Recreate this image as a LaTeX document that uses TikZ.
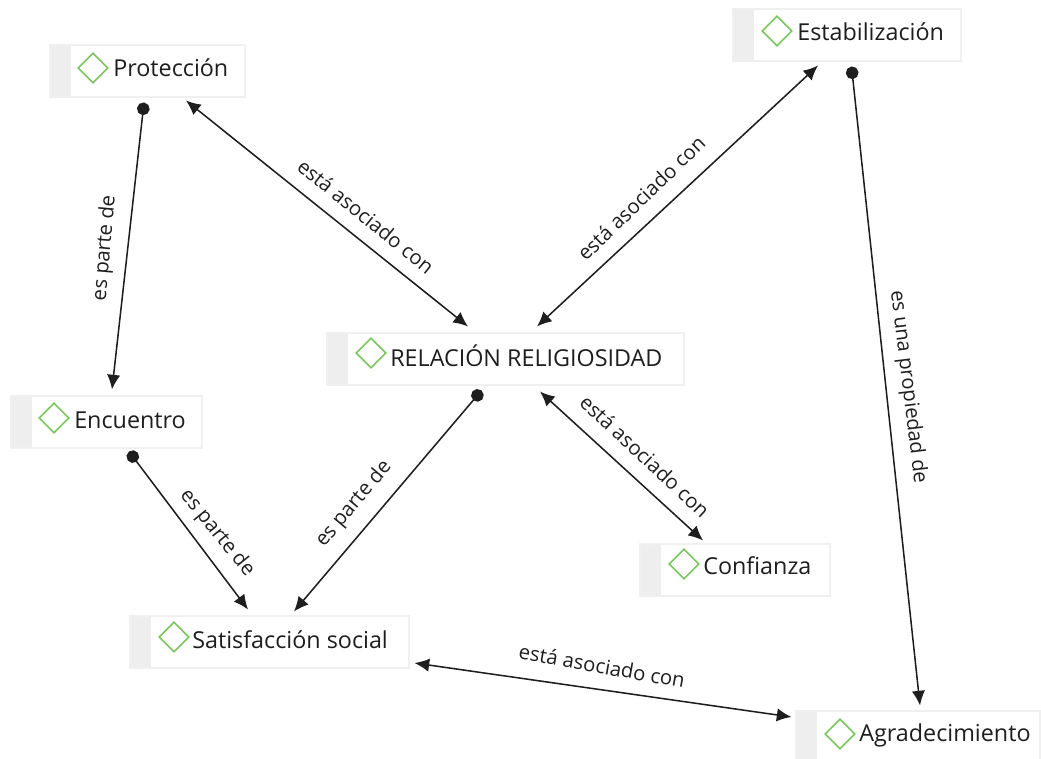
\documentclass[tikz,border=0pt]{standalone}
\usepackage{fontspec}
\setmainfont{Open Sans}
\usetikzlibrary{arrows.meta,calc,shapes.geometric}
\definecolor{stripgray}{RGB}{238,238,238}
\definecolor{boxline}{RGB}{240,240,240}
\definecolor{codegreen}{RGB}{124,198,94}
\definecolor{inkblack}{RGB}{30,30,30}
\tikzset{
  conceptbox/.style={draw=boxline,line width=0.8pt,fill=white,minimum height=39pt,inner sep=0pt,
    path picture={\fill[stripgray] (path picture bounding box.south west) rectangle ([xshift=15.75pt]path picture bounding box.north west);}},
  codemark/.style={diamond,draw=codegreen,line width=1.2pt,minimum width=22.5pt,minimum height=22.5pt,inner sep=0pt},
  conceptname/.style={anchor=west,inner sep=0pt,text=inkblack,font=\fontsize{17.5}{20}\selectfont},
  linklabel/.style={inner sep=0pt,text=inkblack,font=\fontsize{15.2}{18}\selectfont},
  assoc/.style={draw=inkblack,line width=1.15pt,{Latex[length=11pt,width=10pt]}-{Latex[length=11pt,width=10pt]}},
  partof/.style={draw=inkblack,line width=1.15pt,{Circle[length=9.5pt]}-{Latex[length=11pt,width=10pt]}},
}
\begin{document}
\begin{tikzpicture}[x=0.75pt,y=0.75pt,yscale=-1,xscale=1]
    \useasboundingbox (0,0) rectangle (1041,759);

    %Concept: Proteccion
    \node[conceptbox,minimum width=146.25pt] (prot) at (147.5,71) {};
    \node[codemark] (protMark) at (93,68) {};
    \node[conceptname] (protName) at (113,68) {Protección};
    %Concept: Estabilizacion
    \node[conceptbox,minimum width=171pt] (estab) at (847,35) {};
    \node[codemark] (estabMark) at (777,31) {};
    \node[conceptname] (estabName) at (797,32) {Estabilización};
    %Concept: Relacion religiosidad
    \node[conceptbox,minimum width=267.75pt] (rel) at (505.5,359) {};
    \node[codemark] (relMark) at (371,353) {};
    \node[conceptname] (relName) at (390,356) {RELACIÓN RELIGIOSIDAD};
    %Concept: Encuentro
    \node[conceptbox,minimum width=143.25pt] (enc) at (106.5,422) {};
    \node[codemark] (encMark) at (54,418) {};
    \node[conceptname] (encName) at (74,420) {Encuentro};
    %Concept: Confianza
    \node[conceptbox,minimum width=142.5pt] (conf) at (735,570) {};
    \node[codemark] (confMark) at (684,564) {};
    \node[conceptname] (confName) at (703,566) {Confianza};
    %Concept: Satisfaccion social
    \node[conceptbox,minimum width=209.25pt] (sat) at (269.5,642) {};
    \node[codemark] (satMark) at (174,637) {};
    \node[conceptname] (satName) at (192,640) {Satisfacción social};
    %Concept: Agradecimiento
    \node[conceptbox,minimum width=183pt] (agr) at (918,737) {};
    \node[codemark] (agrMark) at (840,734) {};
    \node[conceptname] (agrName) at (859,735) {Agradecimiento};

    %Links
    \draw[partof] ($(prot.south)+(-3.5,5)$) -- ($(enc.north)+(5.5,-6)$);
    \draw[assoc] ($(prot.south)+(38.5,3)$) -- ($(rel.north)+(-37.5,-6)$);
    \draw[assoc] ($(estab.south)+(-29,4)$) -- ($(rel.north)+(31.5,-6)$);
    \draw[partof] ($(estab.south)+(4.5,5)$) -- ($(agr.north)+(2,-5)$);
    \draw[partof] ($(rel.south)+(-24,5)$) -- ($(sat.north)+(24.5,-4)$);
    \draw[assoc] ($(rel.south)+(34.5,6)$) -- ($(conf.north)+(-32,-3)$);
    \draw[partof] ($(enc.south)+(22.5,3)$) -- ($(sat.north)+(-21.5,-6)$);
    \draw[assoc] ($(sat.east)+(5,21)$) -- ($(agr.west)+(-4,-20)$);

    %Link labels
    \node[linklabel,rotate=85] (lblProtEnc) at (105,248) {es parte de};
    \node[linklabel,rotate=-39] (lblProtRel) at (366,216) {está asociado con};
    \node[linklabel,rotate=44] (lblEstabRel) at (641,198) {está asociado con};
    \node[linklabel,rotate=-83] (lblEstabAgr) at (908,387) {es una propiedad de};
    \node[linklabel,rotate=-43] (lblRelConf) at (645,456) {está asociado con};
    \node[linklabel,rotate=50] (lblRelSat) at (354,504) {es parte de};
    \node[linklabel,rotate=-51] (lblEncSat) at (217,533) {es parte de};
    \node[linklabel,rotate=-10] (lblSatAgr) at (602,666) {está asociado con};
\end{tikzpicture}
\end{document}
